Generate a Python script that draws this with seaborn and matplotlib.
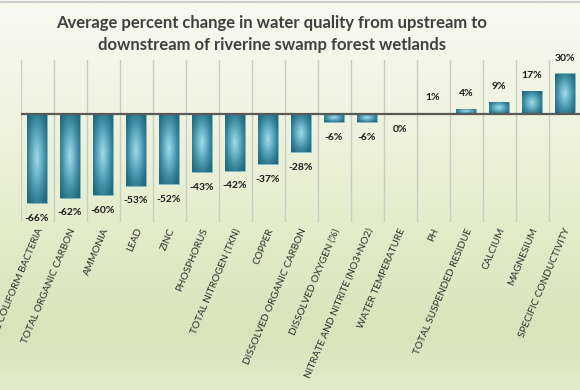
import numpy as np
import pandas as pd
import matplotlib
matplotlib.use("Agg")
import matplotlib.pyplot as plt
import matplotlib.transforms as mtransforms
from matplotlib.colors import LinearSegmentedColormap
import seaborn as sns

# Data
parameters = [
    "FECAL COLIFORM BACTERIA", "TOTAL ORGANIC CARBON", "AMMONIA", "LEAD", "ZINC",
    "PHOSPHORUS", "TOTAL NITROGEN (TKN)", "COPPER", "DISSOLVED ORGANIC CARBON",
    "DISSOLVED OXYGEN (%)", "NITRATE AND NITRITE (NO3+NO2)", "WATER TEMPERATURE",
    "PH", "TOTAL SUSPENDED RESIDUE", "CALCIUM", "MAGNESIUM", "SPECIFIC CONDUCTIVITY",
]
pct_change = [-66, -62, -60, -53, -52, -43, -42, -37, -28, -6, -6, 0, 1, 4, 9, 17, 30]

df = pd.DataFrame({"parameter": parameters, "change": pct_change})

sns.set_style("white")
plt.rcParams["font.family"] = ["Lato", "DejaVu Sans"]

fig = plt.figure(figsize=(5.8, 3.9), dpi=100)

# background gradient over the whole figure
bg_ax = fig.add_axes([0, 0, 1, 1], zorder=-5)
bg_cmap = LinearSegmentedColormap.from_list(
    "bg", [(0, "#f8f9f1"), (0.35, "#eef2dc"), (0.85, "#d8e4b9"), (1, "#e2eacc")])
grad = np.linspace(0, 1, 256).reshape(-1, 1)
bg_ax.imshow(grad, cmap=bg_cmap, aspect="auto", extent=[0, 1, 0, 1])
bg_ax.set_xlim(0, 1)
bg_ax.set_ylim(0, 1)
bg_ax.axis("off")
bg_ax.axhline(0.996, color="#cfcfcf", lw=1.5)

ax = fig.add_axes([20.5 / 580, 1 - 222 / 390, 561 / 580, 162 / 390])
ax.set_facecolor("none")

sns.barplot(data=df, x="parameter", y="change", color="#2f7a8f", width=0.6,
            ax=ax, zorder=3)

# radial shading for each bar, like the Excel preset gradient
bar_cmap = LinearSegmentedColormap.from_list(
    "bar", ["#a3d9e6", "#6bb5ca", "#3d8ba1", "#226a7e"])
yy, xx = np.mgrid[-1:1:120j, -1:1:60j]
rr = np.clip(np.sqrt(xx ** 2 + yy ** 2) / 1.25, 0, 1)
for patch in ax.patches:
    x0, y0 = patch.get_x(), patch.get_y()
    w, h = patch.get_width(), patch.get_height()
    if h == 0:
        continue
    ylo, yhi = sorted([y0, y0 + h])
    im = ax.imshow(rr, cmap=bar_cmap, aspect="auto", zorder=4,
                   extent=[x0, x0 + w, ylo, yhi], interpolation="bilinear")
    im.set_clip_path(patch)
    patch.set_edgecolor("#7fb8c8")
    patch.set_linewidth(0.6)

ax.set_xlim(-0.5, len(parameters) - 0.5)
ax.set_ylim(-80, 40)

# vertical gridlines between categories
for b in np.arange(-0.5, len(parameters), 1):
    ax.axvline(b, color="#c9ccc2", lw=1.0, zorder=1)
ax.axhline(0, color="#595959", lw=1.6, zorder=5)

# data labels
for i, v in enumerate(pct_change):
    off = 11 if v > 0 else -11
    ax.annotate(f"{v}%", (i, v), xytext=(0, off), textcoords="offset points",
                ha="center", va="center", fontsize=7.5, fontweight="bold",
                color="#1a1a1a", zorder=6)

# rotated category labels
ax.set_xticks(range(len(parameters)))
ax.set_xticklabels([])
ax.tick_params(axis="x", length=0)
ax.set_yticks([])
trans = mtransforms.blended_transform_factory(ax.transData, ax.transAxes)
for i, name in enumerate(parameters):
    ax.text(i + 0.1, -0.04, name, transform=trans, rotation=67,
            rotation_mode="anchor", ha="right", va="center",
            fontsize=7.2, color="#2e2e2e")
ax.set_xlabel("")
ax.set_ylabel("")
for s in ax.spines.values():
    s.set_visible(False)

fig.text(0.469, 0.941, "Average percent change in water quality from upstream to",
         ha="center", va="center", fontsize=12, fontweight="bold", color="#404040")
fig.text(0.469, 0.885, "downstream of riverine swamp forest wetlands",
         ha="center", va="center", fontsize=12, fontweight="bold", color="#404040")

fig.savefig("out.png", dpi=100)
